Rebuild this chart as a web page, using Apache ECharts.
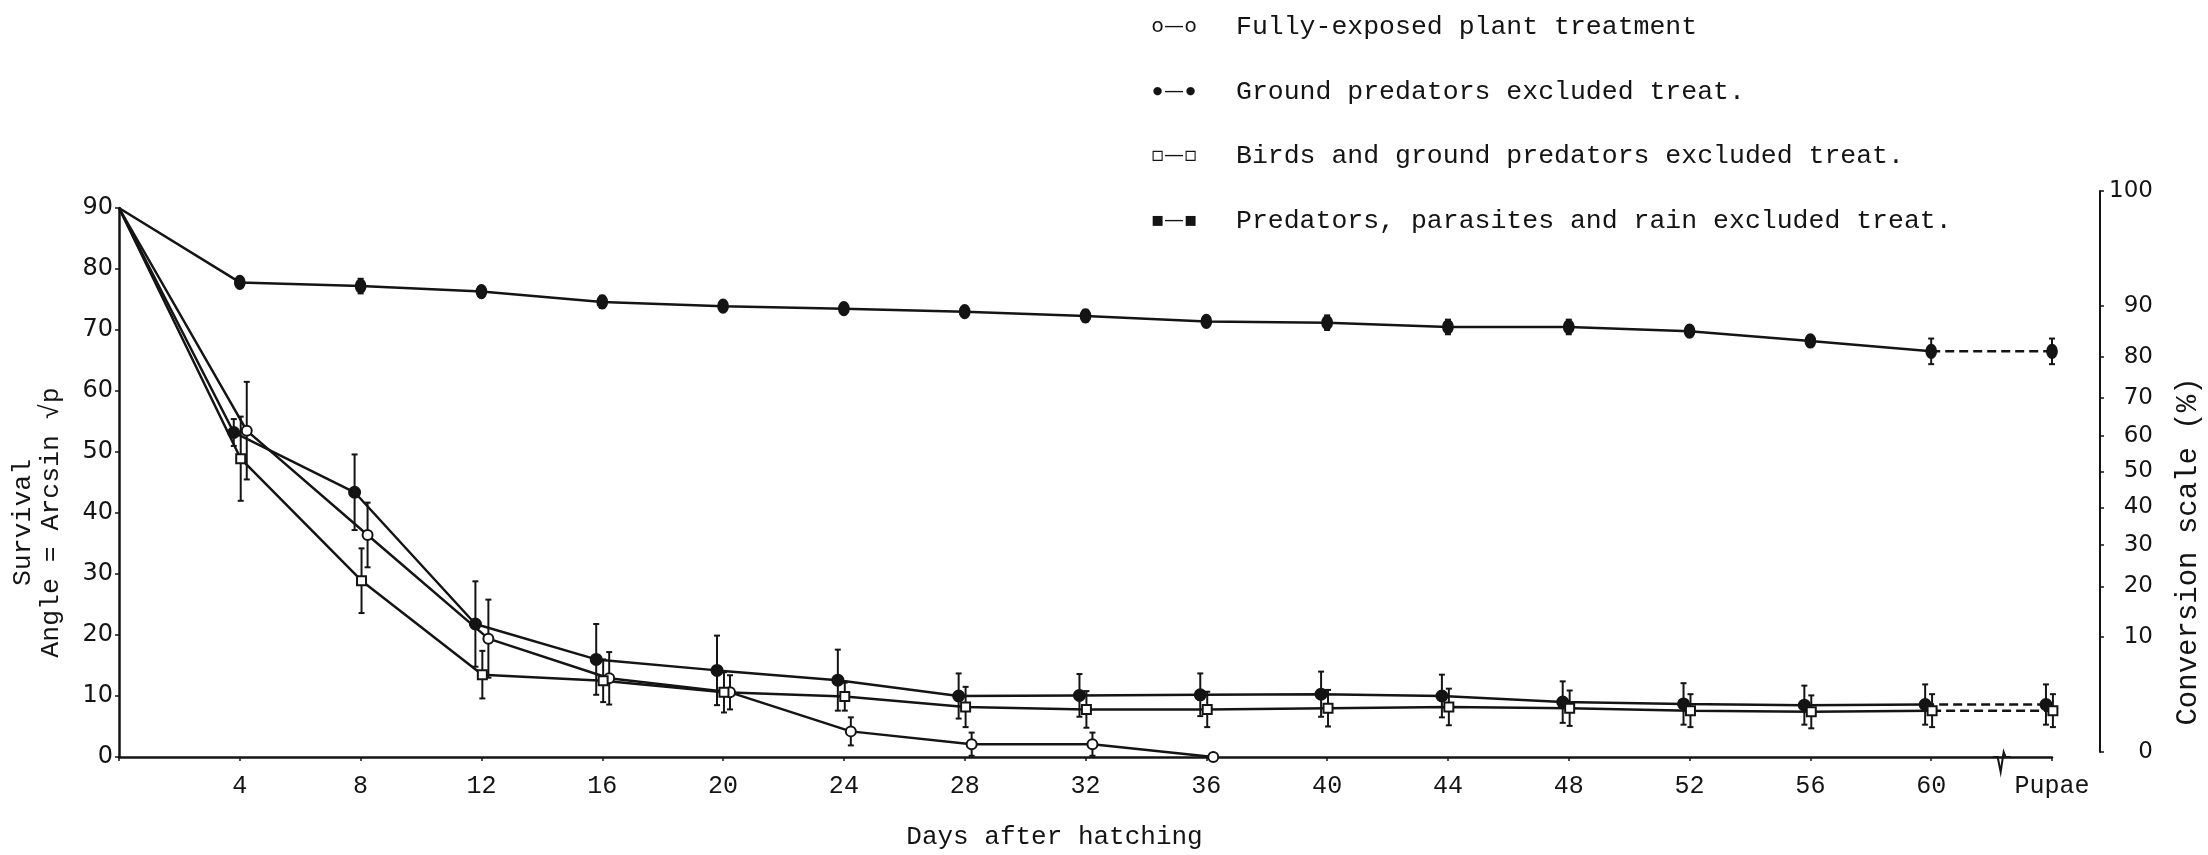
<!DOCTYPE html>
<html>
<head>
<meta charset="utf-8">
<script src="https://cdn.jsdelivr.net/npm/echarts@6/dist/echarts.min.js"></script>
<style>
  html, body { margin: 0; padding: 0; background: #fff; }
  #chart { width: 2208px; height: 855px; }
</style>
</head>
<body>
<div id="chart"></div>
<script>
// Sampling days after hatching; the last entry stands for the pupal stage.
const days = [0, 4, 8, 12, 16, 20, 24, 28, 32, 36, 40, 44, 48, 52, 56, 60, 64];
const pupaeDay = 64;
const axisBreakDay = 62.3;

// Survival, angle = arcsin sqrt(p), with the half-width of each error bar.
const fullyExposed       = [90, 53.5, 36.4, 19.4, 12.9, 10.6, 4.2, 2.1, 2.1, 0];
const fullyExposedErr    = [0, 8.0, 5.3, 6.4, 4.3, 2.8, 2.3, 1.9, 1.9, 0];
const groundExcluded     = [90, 53.2, 43.4, 21.8, 16.0, 14.2, 12.6, 10.0, 10.1, 10.2, 10.3, 10.0, 9.0, 8.7, 8.5, 8.6, 8.6];
const groundExcludedErr  = [0, 2.2, 6.2, 7.0, 5.8, 5.7, 5.0, 3.7, 3.5, 3.5, 3.7, 3.5, 3.4, 3.4, 3.2, 3.3, 3.3];
const birdsExcluded      = [90, 48.9, 28.9, 13.5, 12.5, 10.6, 9.9, 8.2, 7.8, 7.8, 8.0, 8.2, 8.0, 7.6, 7.4, 7.6, 7.6];
const birdsExcludedErr   = [0, 6.9, 5.3, 3.9, 3.5, 3.3, 2.3, 3.3, 3.0, 2.9, 3.0, 3.0, 2.9, 2.7, 2.7, 2.7, 2.7];
const allExcluded        = [90, 77.8, 77.2, 76.3, 74.6, 73.9, 73.5, 73.0, 72.3, 71.4, 71.2, 70.5, 70.5, 69.8, 68.2, 66.5, 66.5];
const allExcludedErr     = [0, 0.5, 1.2, 0.5, 1.0, 0.7, 0.8, 0.7, 1.0, 0.8, 1.2, 1.2, 1.2, 0.8, 0.8, 2.1, 2.1];

// Percent survival marks on the conversion scale.
const conversionTicks = [0, 10, 20, 30, 40, 50, 60, 70, 80, 90, 100];

const INK = '#141414';
const MONO = '"Liberation Mono", "DejaVu Sans Mono", monospace';
const SANS = '"DejaVu Sans", sans-serif';

// mark: rich-text piece used at both ends of the key glyph
const treatments = [
  { name: 'Fully-exposed plant treatment', mark: '{m|o}', vals: fullyExposed, errs: fullyExposedErr,
    symbol: 'circle', size: 10, fill: '#fff', dodge: 0.23 },
  { name: 'Ground predators excluded treat.', mark: '{b|\u25CF}', vals: groundExcluded, errs: groundExcludedErr,
    symbol: 'circle', size: 11, fill: INK, dodge: -0.2 },
  { name: 'Birds and ground predators excluded treat.', mark: '{m|\u25AB}', vals: birdsExcluded, errs: birdsExcludedErr,
    symbol: 'rect', size: 9, fill: '#fff', dodge: 0.03 },
  { name: 'Predators, parasites and rain excluded treat.', mark: '{m|\u25AA}', vals: allExcluded, errs: allExcludedErr,
    symbol: 'circle', size: [10, 13], fill: INK, dodge: 0 }
];

// x position of a sample: the start point sits on the axis, later ones are dodged a little per treatment
const xPos = (day, t) => (day === 0 ? 0 : day + t.dodge);

const series = [];
treatments.forEach(t => {
  const pts = t.vals.map((v, i) => [xPos(days[i], t), v, days[i]]);
  const solid = pts.filter(p => p[2] < pupaeDay);
  const dashed = pts.filter(p => p[2] >= 60);
  const marker = {
    symbolSize: t.size,
    itemStyle: { color: t.fill, borderColor: INK, borderWidth: 2 }
  };
  series.push({
    name: t.name, type: 'line', data: solid, z: 4, clip: false,
    symbol: v => (v[2] === 0 ? 'none' : t.symbol),
    ...marker,
    lineStyle: { color: INK, width: 2.5 },
    emphasis: { disabled: true }
  });
  if (dashed.length === 2) {
    series.push({
      name: t.name + ' (pupae)', type: 'line', data: dashed, z: 4, clip: false,
      symbol: v => (v[2] === pupaeDay ? t.symbol : 'none'),
      ...marker,
      lineStyle: { color: INK, width: 2.5, type: [9, 5] },
      emphasis: { disabled: true }
    });
  }
  series.push({
    name: t.name + ' (s.e.)', type: 'custom', z: 3, clip: false,
    data: t.vals.map((v, i) => [xPos(days[i], t), v - t.errs[i], v + t.errs[i]])
               .filter((d, i) => t.errs[i] > 0),
    encode: { x: 0, y: [1, 2] },
    renderItem(params, api) {
      const x = api.value(0);
      const lo = api.coord([x, api.value(1)]);
      const hi = api.coord([x, api.value(2)]);
      const st = { stroke: INK, lineWidth: 2 };
      return {
        type: 'group',
        children: [
          { type: 'line', shape: { x1: lo[0], y1: lo[1], x2: hi[0], y2: hi[1] }, style: st },
          { type: 'line', shape: { x1: lo[0] - 3, y1: lo[1], x2: lo[0] + 3, y2: lo[1] }, style: st },
          { type: 'line', shape: { x1: hi[0] - 3, y1: hi[1], x2: hi[0] + 3, y2: hi[1] }, style: st }
        ]
      };
    }
  });
});

// break mark on the day axis between day 60 and pupae
series.push({
  type: 'custom', name: 'axis break', z: 5, clip: false,
  data: [[axisBreakDay, 0]],
  renderItem(params, api) {
    const c = api.coord([api.value(0), api.value(1)]);
    return {
      type: 'polyline',
      shape: { points: [[c[0] - 8, c[1]], [c[0] - 3, c[1]], [c[0], c[1] + 15], [c[0] + 3, c[1] - 5], [c[0] + 5, c[1]], [c[0] + 10, c[1]]] },
      style: { stroke: INK, lineWidth: 2, fill: null }
    };
  }
});

const conversionAngles = conversionTicks.map(p => Math.asin(Math.sqrt(p / 100)) * 180 / Math.PI);

const chart = echarts.init(document.getElementById('chart'), null, { renderer: 'canvas' });
chart.setOption({
  backgroundColor: '#fff',
  animation: false,
  legend: {
    data: treatments.map(t => t.name),
    orient: 'vertical',
    left: 1141,
    top: 6,
    itemGap: 35,
    itemWidth: 0,
    itemHeight: 32,
    icon: 'none',
    selectedMode: false,
    formatter: name => {
      const t = treatments.find(x => x.name === name);
      return t.mark + '{d|\u2014}' + t.mark + '{g|}{t|' + name + '}';
    },
    textStyle: {
      rich: {
        m: { fontFamily: SANS, fontSize: 20, width: 13, align: 'center', lineHeight: 32, color: INK },
        b: { fontFamily: SANS, fontSize: 11, width: 13, align: 'center', lineHeight: 32, color: INK },
        d: { fontFamily: SANS, fontSize: 20, width: 20, align: 'center', lineHeight: 32, color: INK },
        g: { width: 39, lineHeight: 32 },
        t: { fontFamily: MONO, fontSize: 26.5, lineHeight: 32, color: INK }
      }
    }
  },
  grid: [
    { left: 119, right: 156, top: 208, bottom: 95 },
    { left: 2100, width: 12, top: 191, bottom: 103 }
  ],
  xAxis: [
    {
      gridIndex: 0, type: 'value', min: 0, max: pupaeDay, interval: 4,
      axisLine: { show: true, onZero: false, lineStyle: { color: INK, width: 2.5 } },
      axisTick: { show: true, length: 4, lineStyle: { color: INK, width: 1.5 } },
      splitLine: { show: false },
      axisLabel: {
        margin: 17, fontFamily: MONO, fontSize: 25, color: INK,
        formatter: v => (v === 0 ? '' : v === pupaeDay ? 'Pupae' : String(v))
      },
      name: 'Days after hatching', nameLocation: 'middle', nameGap: 67,
      nameTextStyle: { fontFamily: MONO, fontSize: 26, color: INK, padding: [0, 62, 0, 0] }
    },
    { gridIndex: 1, type: 'value', min: 0, max: 1, show: false }
  ],
  yAxis: [
    {
      gridIndex: 0, type: 'value', min: 0, max: 90, interval: 10,
      axisLine: { show: true, lineStyle: { color: INK, width: 2.5 } },
      axisTick: { show: true, length: 4, lineStyle: { color: INK, width: 1.5 } },
      splitLine: { show: false },
      axisLabel: { margin: 6, fontFamily: SANS, fontSize: 24, color: INK },
      name: 'Survival\nAngle = Arcsin \u221Ap', nameLocation: 'middle', nameRotate: 90, nameGap: 54,
      nameTextStyle: { fontFamily: MONO, fontSize: 26.5, lineHeight: 28, color: INK, align: 'center', padding: [0, 80, 0, 0] }
    },
    {
      gridIndex: 1, type: 'value', min: 0, max: 90, position: 'right',
      axisLine: { show: true, lineStyle: { color: INK, width: 2 } },
      axisTick: { show: true, length: 4, customValues: conversionAngles, lineStyle: { color: INK, width: 1.5 } },
      splitLine: { show: false },
      axisLabel: {
        customValues: conversionAngles, align: 'right', margin: 41,
        fontFamily: SANS, fontSize: 23, color: INK,
        formatter: v => String(Math.round(100 * Math.pow(Math.sin(v * Math.PI / 180), 2)))
      },
      name: 'Conversion scale (%)', nameLocation: 'middle', nameRotate: 90, nameGap: 62,
      nameTextStyle: { fontFamily: MONO, fontSize: 29, color: INK, padding: [0, 160, 0, 0] }
    }
  ],
  series: series
});
</script>
</body>
</html>
